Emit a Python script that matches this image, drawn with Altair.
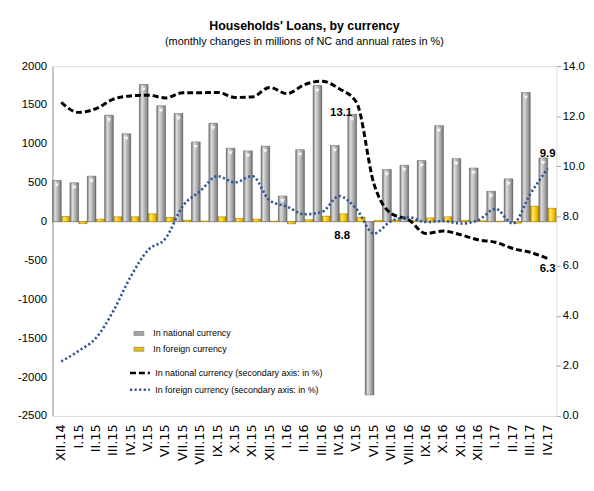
import altair as alt
import pandas as pd

months = ["XII.14", "I.15", "II.15", "III.15", "IV.15", "V.15", "VI.15", "VII.15",
          "VIII.15", "IX.15", "X.15", "XI.15", "XII.15", "I.16", "II.16", "III.16",
          "IV.16", "V.15", "VI.15", "VII.16", "VIII.16", "IX.16", "X.16", "XI.16",
          "XII.16", "I.17", "II.17", "III.17", "IV.17"]
national = [530, 500, 585, 1370, 1130, 1765, 1490, 1390, 1025, 1265, 945, 910, 970, 330,
            925, 1750, 980, 1380, -2230, 670, 725, 785, 1235, 810, 690, 390, 550, 1660, 820]
foreign = [66, -25, 32, 62, 62, 100, 53, 19, 8, 62, 40, 32, 5, -28, 24, 70, 100, 57, 15,
           20, 15, 48, 62, 15, 10, 5, -20, 198, 172]
national_rate = [12.55, 12.15, 12.3, 12.68, 12.81, 12.84, 12.73, 12.94, 12.94, 12.95, 12.75,
                 12.77, 13.15, 12.9, 13.26, 13.4, 13.1, 12.55, 9.3, 8.1, 7.85, 7.3, 7.4,
                 7.25, 7.05, 6.95, 6.7, 6.55, 6.3]
foreign_rate = [2.18, 2.6, 3.12, 4.2, 5.58, 6.64, 7.1, 8.4, 9.0, 9.6, 9.35, 9.6, 8.62, 8.38,
                8.07, 8.16, 8.8, 8.28, 7.3, 7.8, 7.95, 7.76, 7.8, 7.7, 7.83, 8.29, 7.7,
                8.88, 9.9]

series_bars = ["In national currency", "In foreign currency"]
series_lines = ["In national currency (secondary axis: in %)",
                "In foreign currency (secondary axis: in %)"]

df = pd.DataFrame({
    "idx": list(range(len(months))),
    "nat": national,
    "fx": foreign,
    "nat_rate": national_rate,
    "fx_rate": foreign_rate,
})

FN = "Liberation Sans"
label_expr = "[" + ",".join("'%s'" % m for m in months) + "][datum.value]"

x = alt.X("idx:O", scale=alt.Scale(paddingInner=0.03, paddingOuter=0.02),
          axis=alt.Axis(labelExpr=label_expr, labelAngle=-90, labelFont="DejaVu Sans",
                        labelFontSize=13, labelColor="#000000", domain=False, ticks=False,
                        labelPadding=8, labelOverlap=False, title=None))

left_scale = alt.Scale(domain=[-2500, 2000], nice=False, zero=False)
left_axis = alt.Axis(orient="left", values=list(range(-2500, 2001, 500)),
                     labelExpr="'' + datum.value",
                     grid=False, ticks=False, domainColor="#a0a0a0",
                     labelFont=FN, labelFontSize=11.5, labelColor="#000000",
                     labelPadding=6, labelOverlap=False, title=None)


def y_left(field):
    return alt.Y(field + ":Q", scale=left_scale, axis=left_axis)


def y_right(field):
    return alt.Y(field + ":Q",
                 scale=alt.Scale(domain=[0, 14], nice=False, zero=False),
                 axis=alt.Axis(orient="right", values=list(range(0, 15, 2)), format=".1f",
                               grid=False, domain=False, ticks=True, tickSize=4,
                               tickColor="#a0a0a0", labelFont=FN, labelFontSize=11.5,
                               labelColor="#000000", labelPadding=2, labelOverlap=False,
                               title=None))


bar_scale = alt.Scale(domain=series_bars, range=["#a6a6a6", "#f0c000"])
bar_legend = alt.Legend(orient="none", legendX=77, legendY=260, title=None,
                        symbolType="M-0.5,-0.2H0.5V0.2H-0.5Z", symbolSize=400,
                        symbolStrokeColor="#707070", symbolStrokeWidth=0.6,
                        labelFont=FN, labelFontSize=9, labelColor="#000000",
                        labelLimit=0, rowPadding=0, padding=0)

line_color_scale = alt.Scale(domain=series_lines, range=["#000000", "#2f5597"])
line_dash_scale = alt.Scale(domain=series_lines, range=[[6, 3], [2.2, 2.4]])
line_legend = alt.Legend(orient="none", legendX=77, legendY=299, title=None,
                         symbolType="stroke", symbolSize=400, symbolStrokeWidth=2.6,
                         labelFont=FN, labelFontSize=9, labelColor="#000000",
                         labelLimit=0, rowPadding=0, padding=0)

grad_gray = alt.LinearGradient(
    gradient="linear", x1=0, x2=1, y1=0, y2=0,
    stops=[alt.GradientStop(offset=0, color="#707070"),
           alt.GradientStop(offset=0.28, color="#dedede"),
           alt.GradientStop(offset=0.6, color="#b2b2b2"),
           alt.GradientStop(offset=0.88, color="#8a8a8a"),
           alt.GradientStop(offset=1, color="#5a5a5a")])
grad_gold = alt.LinearGradient(
    gradient="linear", x1=0, x2=1, y1=0, y2=0,
    stops=[alt.GradientStop(offset=0, color="#b08a00"),
           alt.GradientStop(offset=0.28, color="#ffe680"),
           alt.GradientStop(offset=0.6, color="#ffcc00"),
           alt.GradientStop(offset=0.88, color="#e0a800"),
           alt.GradientStop(offset=1, color="#a07800")])

base = alt.Chart(df)
one = alt.Chart(pd.DataFrame({"k": [0]}))

zero_rule = one.mark_rule(color="#a0a0a0", strokeWidth=1).encode(
    y=alt.YDatum(0, scale=left_scale, axis=left_axis))

BW_N, BW_F, OFF = 8.8, 8.4, 4.4

gray_base = base.transform_calculate(s="'%s'" % series_bars[0]).mark_bar(
    width=BW_N, xOffset=-OFF).encode(
    x=x, y=y_left("nat"), color=alt.Color("s:N", scale=bar_scale, legend=bar_legend))
gold_base = base.transform_calculate(s="'%s'" % series_bars[1]).mark_bar(
    width=BW_F, xOffset=OFF).encode(
    x=x, y=y_left("fx"), color=alt.Color("s:N", scale=bar_scale, legend=bar_legend))
gray_grad = base.mark_bar(width=BW_N, xOffset=-OFF, fill=grad_gray, stroke="#6a6a6a",
                          strokeWidth=0.5).encode(x=x, y=y_left("nat"))
gold_grad = base.mark_bar(width=BW_F, xOffset=OFF, fill=grad_gold, stroke="#9a7400",
                          strokeWidth=0.5).encode(x=x, y=y_left("fx"))
tri = base.transform_filter("datum.nat > 0").mark_point(
    shape="triangle-down", filled=True, color="#ffffff", size=20, opacity=0.85,
    xOffset=-OFF, yOffset=5).encode(x=x, y=y_left("nat"))

bars = alt.layer(gray_base, zero_rule, gold_base, gray_grad, gold_grad, tri)

line_nat = base.transform_calculate(s="'%s'" % series_lines[0]).mark_line(
    strokeWidth=3, interpolate="monotone").encode(
    x=x, y=y_right("nat_rate"),
    color=alt.Color("s:N", scale=line_color_scale, legend=line_legend),
    strokeDash=alt.StrokeDash("s:N", scale=line_dash_scale, legend=line_legend))
line_fx = base.transform_calculate(s="'%s'" % series_lines[1]).mark_line(
    strokeWidth=2.6, interpolate="monotone").encode(
    x=x, y=y_right("fx_rate"),
    color=alt.Color("s:N", scale=line_color_scale, legend=line_legend),
    strokeDash=alt.StrokeDash("s:N", scale=line_dash_scale, legend=line_legend))

last = len(months) - 1


def label(field, idx, dx, dy):
    return base.transform_filter("datum.idx == %d" % idx).mark_text(
        font=FN, fontSize=11.5, fontWeight="bold", color="#000000", dx=dx, dy=dy).encode(
        x=x, y=y_right(field), text=alt.Text(field + ":Q", format=".1f"))


lines = alt.layer(line_nat, line_fx,
                  label("nat_rate", 16, 2, 25), label("fx_rate", 16, 3, 40),
                  label("nat_rate", last, 0, 11), label("fx_rate", last, 0, -15))

chart = alt.layer(bars, lines).resolve_scale(
    y="independent", color="independent", strokeDash="independent"
).properties(
    width=510, height=354,
    autosize=alt.AutoSizeParams(type="none"),
    padding={"left": 45, "top": 56, "right": 30, "bottom": 65},
    title=alt.TitleParams(
        text="Households' Loans, by currency",
        subtitle="(monthly changes in millions of NC and annual rates in %)",
        font=FN, fontSize=12.5, fontWeight="bold", color="#000000",
        subtitleFont=FN, subtitleFontSize=11, subtitleColor="#000000",
        anchor="middle", offset=13, subtitlePadding=4),
).configure_view(stroke=None).configure_axis(labelOverlap=False).configure(
    background="#ffffff")

chart.save("out.html", embed_options={"renderer": "svg", "actions": False})
